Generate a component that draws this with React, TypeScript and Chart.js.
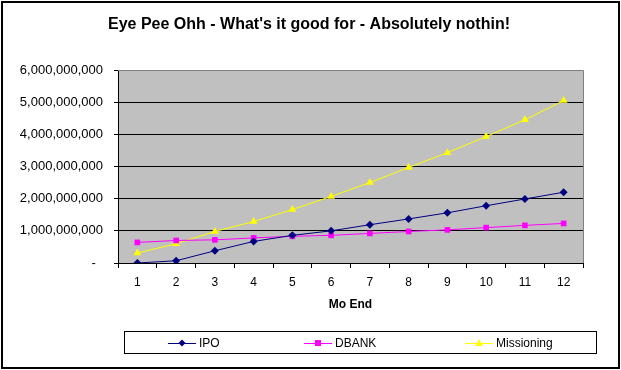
import React, { useEffect, useRef } from "react";
import { Chart, registerables } from "chart.js";

Chart.register(...registerables);

const categories = ["1", "2", "3", "4", "5", "6", "7", "8", "9", "10", "11", "12"];
const ipo = [0.0e9, 0.07e9, 0.38e9, 0.67e9, 0.86e9, 1.0e9, 1.19e9, 1.37e9, 1.56e9, 1.78e9, 1.99e9, 2.2e9];
const dbank = [0.64e9, 0.7e9, 0.72e9, 0.78e9, 0.83e9, 0.86e9, 0.92e9, 0.98e9, 1.03e9, 1.1e9, 1.17e9, 1.23e9];
const missioning = [0.31e9, 0.6e9, 0.98e9, 1.29e9, 1.66e9, 2.07e9, 2.5e9, 2.97e9, 3.43e9, 3.93e9, 4.45e9, 5.05e9];
const seriesNames = ["IPO", "DBANK", "Missioning"];
const titleText = "Eye Pee Ohh - What's it good for - Absolutely nothin!";
const xTitle = "Mo End";

const FONT = "Arial, 'Liberation Sans', sans-serif";

const decorPlugin = {
  id: "decor",
  beforeDraw(chart: any) {
    const { ctx, chartArea } = chart;
    ctx.save();
    ctx.fillStyle = "#ffffff";
    ctx.fillRect(0, 0, chart.width, chart.height);
    ctx.fillStyle = "#c0c0c0";
    ctx.fillRect(chartArea.left, chartArea.top, chartArea.right - chartArea.left, chartArea.bottom - chartArea.top);
    ctx.restore();
  },
  beforeDatasetsDraw(chart: any) {
    const { ctx, chartArea } = chart;
    ctx.save();
    ctx.strokeStyle = "#808080";
    ctx.lineWidth = 1;
    ctx.beginPath();
    ctx.moveTo(chartArea.left, chartArea.top + 0.5);
    ctx.lineTo(chartArea.right + 0.5, chartArea.top + 0.5);
    ctx.lineTo(chartArea.right + 0.5, chartArea.bottom);
    ctx.stroke();
    ctx.restore();
  },
  afterDraw(chart: any) {
    const { ctx, chartArea } = chart;
    ctx.save();
    // outer border
    ctx.strokeStyle = "#000000";
    ctx.lineWidth = 2;
    ctx.strokeRect(2, 2, 617, 366);
    // title
    ctx.fillStyle = "#000000";
    ctx.font = `bold 16px ${FONT}`;
    ctx.textAlign = "center";
    ctx.textBaseline = "middle";
    ctx.fillText(titleText, 309, 25);
    // x axis title
    ctx.font = `bold 12px ${FONT}`;
    ctx.fillText(xTitle, (chartArea.left + chartArea.right) / 2, 305);
    // legend box
    ctx.lineWidth = 1;
    ctx.strokeRect(124.5, 331.5, 472, 22);
    const items = [
      { x: 168, color: "#000080", style: "rectRot" },
      { x: 304, color: "#ff00ff", style: "rect" },
      { x: 465, color: "#ffff00", style: "triangle" },
    ];
    ctx.font = `12px ${FONT}`;
    ctx.textAlign = "left";
    const ly = 343;
    items.forEach((it, i) => {
      ctx.strokeStyle = it.color;
      ctx.lineWidth = 1;
      ctx.beginPath();
      ctx.moveTo(it.x, ly + 0.5);
      ctx.lineTo(it.x + 28, ly + 0.5);
      ctx.stroke();
      ctx.fillStyle = it.color;
      ctx.beginPath();
      const cx = it.x + 14;
      if (it.style === "rectRot") {
        ctx.moveTo(cx, ly - 3.5);
        ctx.lineTo(cx + 3.5, ly);
        ctx.lineTo(cx, ly + 3.5);
        ctx.lineTo(cx - 3.5, ly);
      } else if (it.style === "rect") {
        ctx.rect(cx - 3, ly - 3, 6, 6);
      } else {
        ctx.moveTo(cx, ly - 4);
        ctx.lineTo(cx + 4, ly + 3);
        ctx.lineTo(cx - 4, ly + 3);
      }
      ctx.closePath();
      ctx.fill();
      ctx.fillStyle = "#000000";
      ctx.fillText(seriesNames[i], it.x + 31, ly + 0.5);
    });
    ctx.restore();
  },
};

export default function App() {
  const canvasRef = useRef<HTMLCanvasElement | null>(null);

  useEffect(() => {
    const canvas = canvasRef.current;
    if (!canvas) return;
    const chart = new Chart(canvas, {
      type: "line",
      data: {
        labels: categories,
        datasets: [
          {
            label: seriesNames[0],
            data: ipo,
            borderColor: "#000080",
            backgroundColor: "#000080",
            borderWidth: 1,
            pointStyle: "rectRot",
            pointRadius: 4,
            pointBorderWidth: 0,
            tension: 0,
          },
          {
            label: seriesNames[1],
            data: dbank,
            borderColor: "#ff00ff",
            backgroundColor: "#ff00ff",
            borderWidth: 1,
            pointStyle: "rect",
            pointRadius: 4,
            pointBorderWidth: 0,
            tension: 0,
          },
          {
            label: seriesNames[2],
            data: missioning,
            borderColor: "#ffff00",
            backgroundColor: "#ffff00",
            borderWidth: 1,
            pointStyle: "triangle",
            pointRadius: 4.5,
            pointBorderWidth: 0,
            tension: 0,
          },
        ],
      },
      options: {
        responsive: false,
        animation: false,
        devicePixelRatio: 1,
        layout: { padding: { top: 70, left: 0, right: 38, bottom: 0 } },
        plugins: {
          legend: { display: false },
          title: { display: false },
          tooltip: { enabled: false },
        },
        scales: {
          x: {
            offset: true,
            grid: {
              offset: true,
              drawOnChartArea: false,
              drawTicks: true,
              tickLength: 5,
              color: "#000000",
            },
            border: { color: "#000000", width: 1 },
            ticks: {
              color: "#000000",
              font: { family: FONT, size: 12 },
              padding: 7,
              maxRotation: 0,
              autoSkip: false,
            },
            afterFit: (scale: any) => {
              scale.height = 370 - 263;
            },
          },
          y: {
            min: 0,
            max: 6e9,
            grid: {
              color: "#000000",
              drawTicks: true,
              tickLength: 4,
            },
            border: { color: "#000000", width: 1 },
            ticks: {
              stepSize: 1e9,
              color: "#000000",
              font: { family: FONT, size: 13 },
              padding: 11,
              callback: (v: any) => (Number(v) === 0 ? "-  " : Number(v).toLocaleString("en-US")),
            },
            afterFit: (scale: any) => {
              scale.width = 118;
            },
          },
        },
      },
      plugins: [decorPlugin],
    });
    return () => chart.destroy();
  }, []);

  return (
    <div style={{ position: "fixed", left: 0, top: 0, width: 621, height: 370 }}>
      <canvas ref={canvasRef} width={621} height={370} style={{ width: 621, height: 370 }} />
    </div>
  );
}
